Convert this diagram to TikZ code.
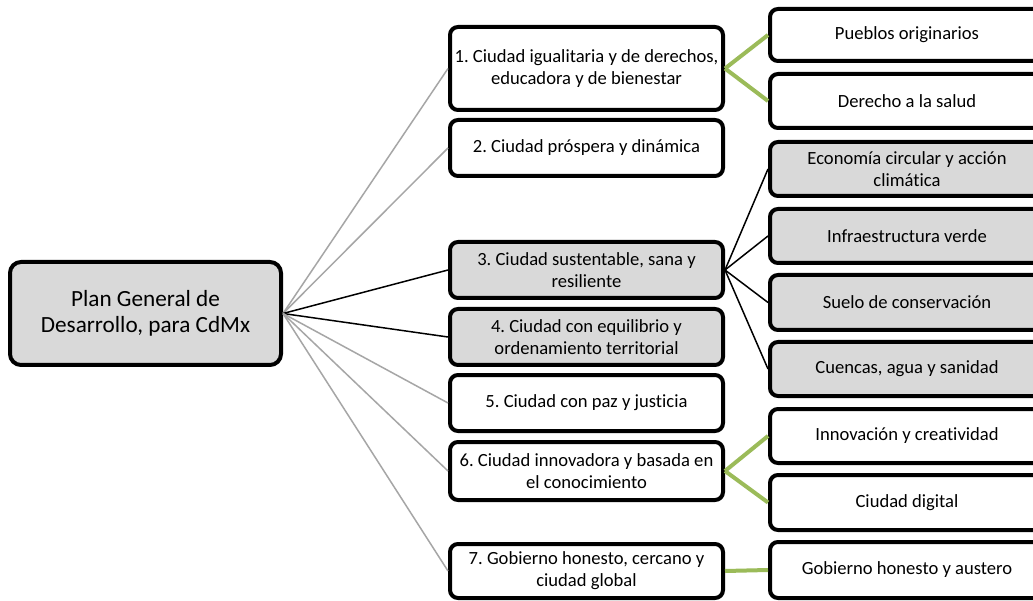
\documentclass[tikz,border=0pt]{standalone}
\usepackage{fontspec}
\setmainfont{Carlito}[Ligatures=NoCommon]
\frenchspacing
\definecolor{boxgray}{HTML}{D9D9D9}
\definecolor{linegray}{HTML}{A6A6A6}
\definecolor{leafgreen}{HTML}{9BBB59}
\tikzset{
  basebox/.style={draw=black, line width=4pt, rounded corners=8pt, align=center, inner sep=1pt,
    font=\fontsize{18.6}{22}\selectfont},
  midbox/.style={basebox, minimum width=273pt},
  leafbox/.style={basebox, minimum width=274pt},
  rootbox/.style={draw=black, line width=4pt, rounded corners=11pt, align=center, fill=boxgray,
    minimum width=271pt, minimum height=103pt, font=\fontsize{23.2}{26}\selectfont},
  graylink/.style={draw=linegray, line width=1.5pt},
  blacklink/.style={draw=black, line width=1.5pt},
  greenlink/.style={draw=leafgreen, line width=4pt},
}
\begin{document}
\begin{tikzpicture}[x=1pt,y=-1pt]
\useasboundingbox (0,0) rectangle (1033,601);
\clip (0,0) rectangle (1033,601);
\fill[white] (0,0) rectangle (1033,601);
% root
\node[rootbox] (root) at (145.5,313.5) {Plan General de\\Desarrollo, para CdMx};
% middle
\node[midbox, minimum height=83pt] (m1) at (586.5,68.5) {1. Ciudad igualitaria y de derechos,\\educadora y de bienestar};
\node[midbox, minimum height=56pt] (m2) at (586.5,148) {2. Ciudad próspera y dinámica};
\node[midbox, minimum height=56pt, fill=boxgray] (m3) at (586.5,270) {3. Ciudad sustentable, sana y\\resiliente};
\node[midbox, minimum height=56pt, fill=boxgray] (m4) at (586.5,337) {4. Ciudad con equilibrio y\\ordenamiento territorial};
\node[midbox, minimum height=56pt] (m5) at (586.5,403) {5. Ciudad con paz y justicia};
\node[midbox, minimum height=58pt] (m6) at (586.5,471) {6. Ciudad innovadora y basada en\\el conocimiento};
\node[midbox, minimum height=54pt] (m7) at (586.5,571) {7. Gobierno honesto, cercano y\\ciudad global};
% leaves
\node[leafbox, minimum height=52pt] (l1) at (907,35) {Pueblos originarios};
\node[leafbox, minimum height=54pt] (l2) at (907,101) {Derecho a la salud};
\node[leafbox, minimum height=54pt, fill=boxgray] (l3) at (907,169) {Economía circular y acción\\climática};
\node[leafbox, minimum height=54pt, fill=boxgray] (l4) at (907,236) {Infraestructura verde};
\node[leafbox, minimum height=55pt, fill=boxgray] (l5) at (907,302.5) {Suelo de conservación};
\node[leafbox, minimum height=54pt, fill=boxgray] (l6) at (907,369) {Cuencas, agua y sanidad};
\node[leafbox, minimum height=54pt] (l7) at (907,436) {Innovación y creatividad};
\node[leafbox, minimum height=55pt] (l8) at (907,502.5) {Ciudad digital};
\node[leafbox, minimum height=56pt] (l9) at (907,570) {Gobierno honesto y austero};
% connectors root -> middle
\draw[graylink] (root.east) -- (m1.west);
\draw[graylink] (root.east) -- (m2.west);
\draw[blacklink] (root.east) -- (m3.west);
\draw[blacklink] (root.east) -- (m4.west);
\draw[graylink] (root.east) -- (m5.west);
\draw[graylink] (root.east) -- (m6.west);
\draw[graylink] (root.east) -- (m7.west);
% middle -> leaves
\draw[greenlink] (m1.east) -- (l1.west);
\draw[greenlink] (m1.east) -- (l2.west);
\draw[blacklink] (m3.east) -- (l3.west);
\draw[blacklink] (m3.east) -- (l4.west);
\draw[blacklink] (m3.east) -- (l5.west);
\draw[blacklink] (m3.east) -- (l6.west);
\draw[greenlink] (m6.east) -- (l7.west);
\draw[greenlink] (m6.east) -- (l8.west);
\draw[greenlink] (m7.east) -- (l9.west);
\end{tikzpicture}
\end{document}
